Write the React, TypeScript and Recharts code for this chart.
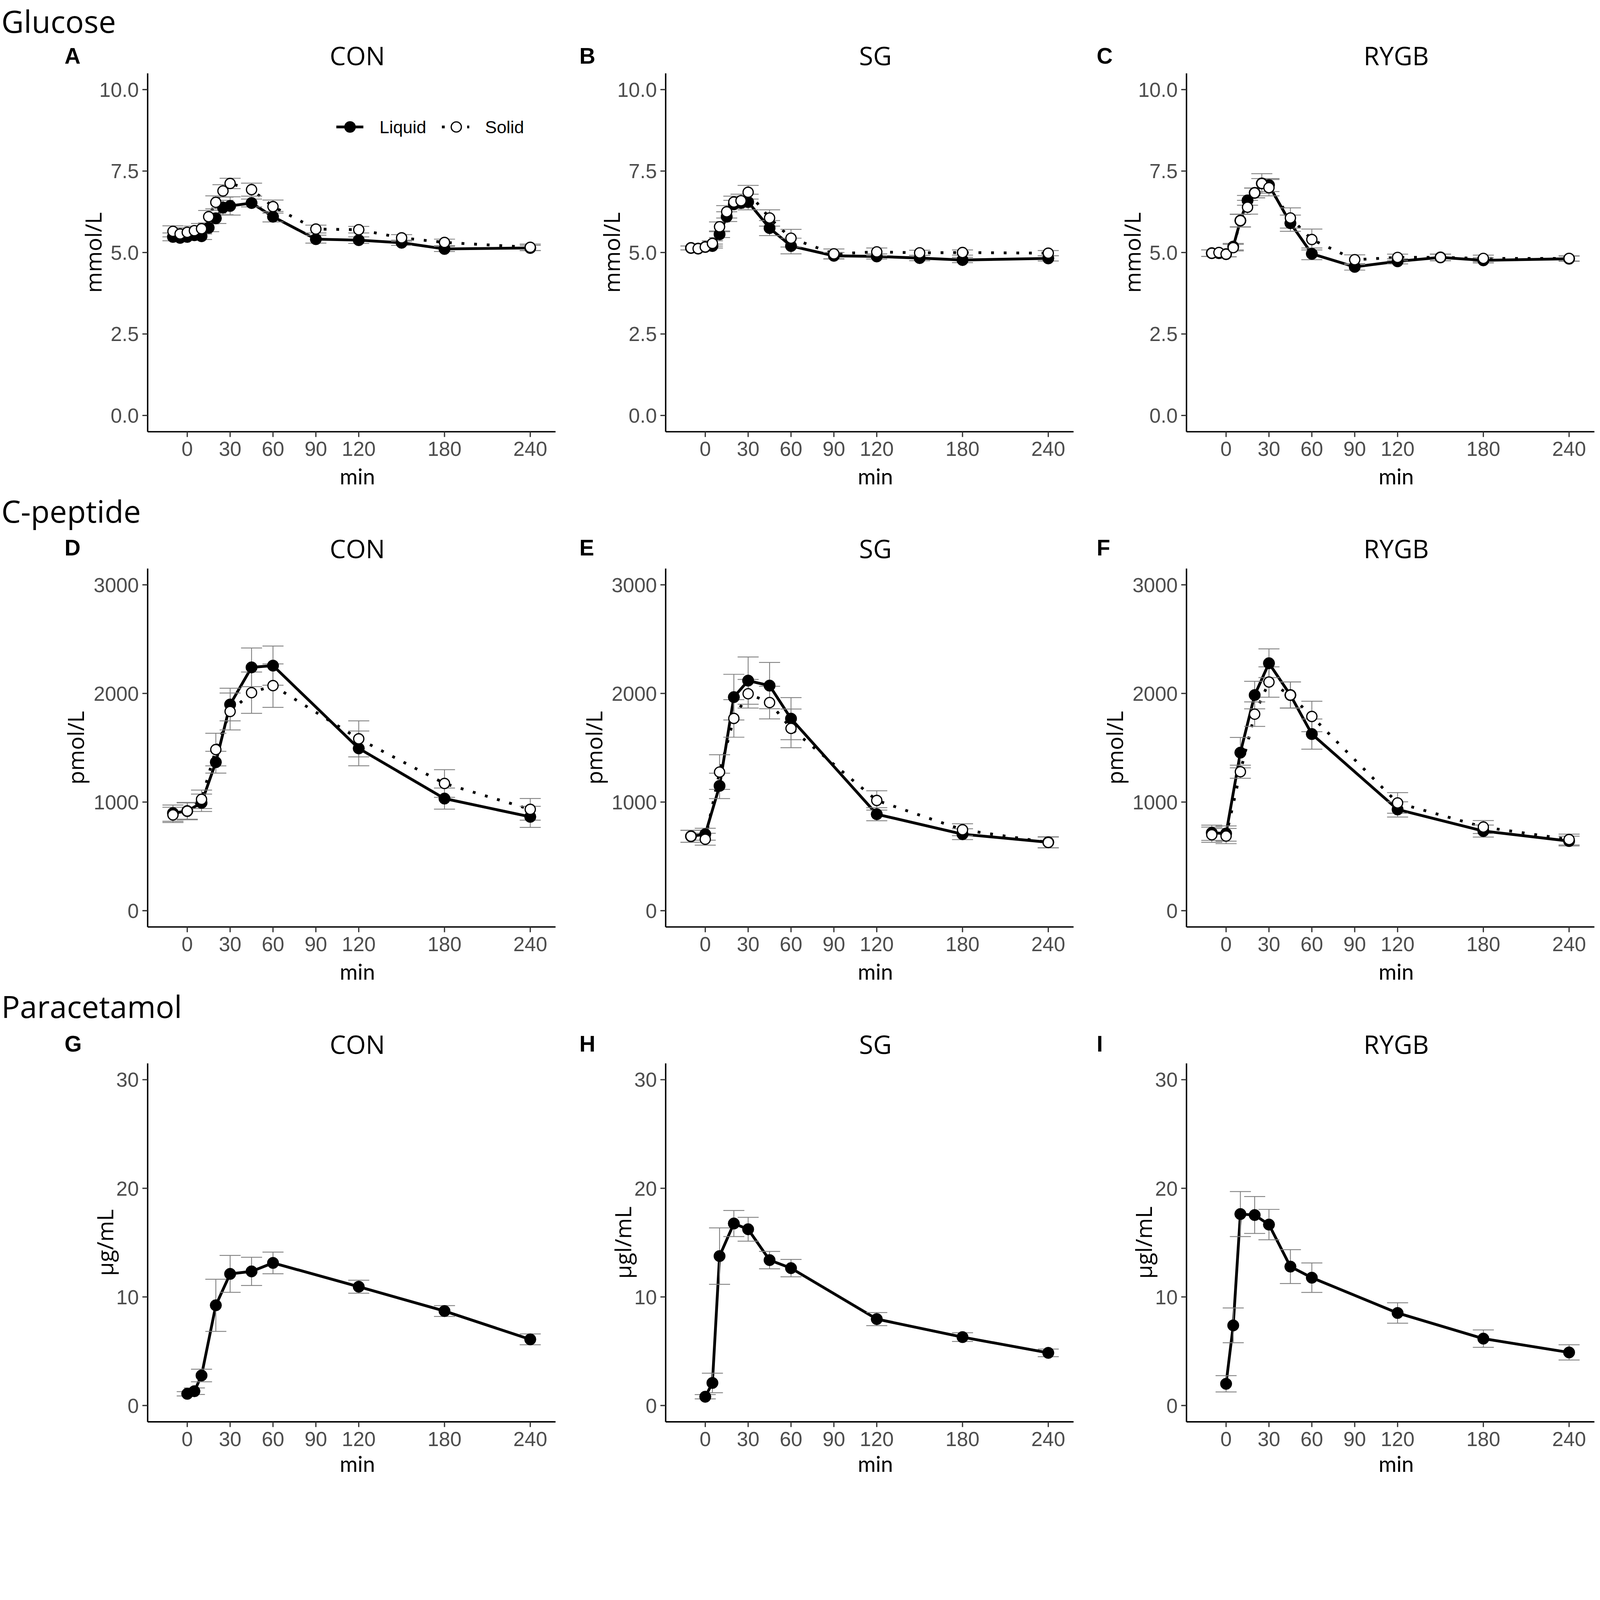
import { ComposedChart, Line, XAxis, YAxis, ErrorBar } from "recharts";

// ---- data ----
const glucoseTimes = [-10, -5, 0, 5, 10, 15, 20, 25, 30, 45, 60, 90, 120, 150, 180, 240];
const cpepTimes = [-10, 0, 10, 20, 30, 45, 60, 120, 180, 240];
const paraTimes = [0, 5, 10, 20, 30, 45, 60, 120, 180, 240];

// Glucose (mmol/L)
const gluConLiquid = [5.48, 5.45, 5.48, 5.53, 5.5, 5.76, 6.05, 6.38, 6.43, 6.52, 6.1, 5.41, 5.38, 5.3, 5.11, 5.14];
const gluConLiquidSe = [0.12, 0.1, 0.1, 0.1, 0.1, 0.12, 0.16, 0.22, 0.28, 0.12, 0.16, 0.12, 0.1, 0.08, 0.08, 0.08];
const gluConSolid = [5.65, 5.57, 5.62, 5.67, 5.73, 6.1, 6.54, 6.89, 7.12, 6.93, 6.41, 5.72, 5.7, 5.45, 5.31, 5.16];
const gluConSolidSe = [0.17, 0.14, 0.14, 0.14, 0.16, 0.19, 0.2, 0.19, 0.16, 0.2, 0.2, 0.12, 0.1, 0.1, 0.1, 0.1];

const gluSgLiquid = [5.14, 5.12, 5.17, 5.2, 5.56, 6.1, 6.48, 6.52, 6.55, 5.75, 5.2, 4.9, 4.88, 4.83, 4.77, 4.82];
const gluSgLiquidSe = [0.06, 0.06, 0.06, 0.06, 0.1, 0.15, 0.12, 0.12, 0.24, 0.23, 0.24, 0.1, 0.08, 0.08, 0.08, 0.08];
const gluSgSolid = [5.14, 5.12, 5.17, 5.28, 5.79, 6.25, 6.55, 6.59, 6.85, 6.06, 5.44, 4.96, 5.02, 4.99, 5.0, 4.98];
const gluSgSolidSe = [0.06, 0.06, 0.06, 0.08, 0.15, 0.19, 0.18, 0.2, 0.21, 0.25, 0.27, 0.15, 0.12, 0.08, 0.08, 0.08];

const gluRygbLiquid = [4.98, 4.98, 4.95, 5.18, 5.98, 6.6, 6.83, 7.12, 7.07, 5.9, 4.96, 4.56, 4.73, 4.85, 4.76, 4.81];
const gluRygbLiquidSe = [0.1, 0.08, 0.08, 0.1, 0.2, 0.15, 0.15, 0.15, 0.2, 0.25, 0.18, 0.1, 0.08, 0.1, 0.08, 0.08];
const gluRygbSolid = [4.98, 5.0, 4.95, 5.15, 5.98, 6.39, 6.83, 7.12, 6.99, 6.06, 5.4, 4.78, 4.85, 4.85, 4.82, 4.82];
const gluRygbSolidSe = [0.1, 0.08, 0.08, 0.1, 0.19, 0.21, 0.15, 0.3, 0.25, 0.31, 0.32, 0.15, 0.1, 0.1, 0.1, 0.08];

// C-peptide (pmol/L)
const cpConLiquid = [898, 917, 993, 1367, 1898, 2240, 2256, 1494, 1032, 864];
const cpConLiquidSe = [75, 80, 80, 100, 150, 178, 180, 160, 97, 97];
const cpConSolid = [882, 917, 1025, 1483, 1834, 2007, 2072, 1582, 1171, 933];
const cpConSolidSe = [70, 75, 85, 150, 170, 190, 200, 166, 127, 100];

const cpSgLiquid = [685, 704, 1149, 1966, 2118, 2072, 1768, 888, 704, 630];
const cpSgLiquidSe = [55, 55, 117, 210, 218, 213, 194, 60, 50, 50];
const cpSgSolid = [685, 658, 1276, 1770, 1997, 1916, 1678, 1015, 745, 628];
const cpSgSolidSe = [55, 55, 160, 173, 132, 150, 178, 89, 55, 50];

const cpRygbLiquid = [717, 710, 1455, 1985, 2278, 1985, 1626, 932, 733, 641];
const cpRygbLiquidSe = [70, 70, 140, 127, 132, 120, 139, 70, 55, 45];
const cpRygbSolid = [699, 687, 1279, 1809, 2105, 1985, 1788, 992, 770, 655];
const cpRygbSolidSe = [70, 70, 60, 113, 140, 120, 140, 95, 60, 50];

// Paracetamol (µg/mL), liquid meal only
const paraCon = [1.08, 1.32, 2.77, 9.23, 12.12, 12.35, 13.13, 10.94, 8.7, 6.09];
const paraConSe = [0.2, 0.3, 0.58, 2.4, 1.7, 1.3, 1.0, 0.6, 0.5, 0.5];
const paraSg = [0.81, 2.08, 13.76, 16.76, 16.23, 13.39, 12.65, 7.96, 6.3, 4.85];
const paraSgSe = [0.2, 0.9, 2.6, 1.2, 1.1, 0.8, 0.8, 0.6, 0.4, 0.35];
const paraRygb = [2.0, 7.38, 17.63, 17.54, 16.66, 12.79, 11.77, 8.52, 6.16, 4.89];
const paraRygbSe = [0.75, 1.6, 2.07, 1.7, 1.4, 1.56, 1.36, 0.94, 0.8, 0.7];

const xTicks = [0, 30, 60, 90, 120, 180, 240];
const glucoseTicks = [0, 2.5, 5, 7.5, 10];
const cpepTicks = [0, 1000, 2000, 3000];
const paraTicks = [0, 10, 20, 30];

const sections = ["Glucose", "C-peptide", "Paracetamol"];
const groups = ["CON", "SG", "RYGB"];
const letters = ["A", "B", "C", "D", "E", "F", "G", "H", "I"];

// ---- layout ----
const PAGE_W = 4562;
const PAGE_H = 4211;
const PLOT_W = 1163;
const PLOT_H = 1022;
const Y_W = 280;
const M_TOP = 20;
const M_RIGHT = 30;
const X_H = 130;
const colLeft = [421, 1898, 3383];
const rowTop = [209, 1621, 3032];
const letterX = [184, 1652, 3127];
const letterBase = [181, 1584, 2998];
const sectionBase = [94, 1490, 2902];
const titleBase = [186, 1592, 3005];
const minBase = [1381, 2793, 4197];
const X_DOMAIN: [number, number] = [-27.7, 257.7];

const TICK_FONT = "'Liberation Sans', Arial, sans-serif";
const TITLE_FONT = "'Open Sans', 'Noto Sans', sans-serif";
const MIN_FONT = "Lato, 'Open Sans', sans-serif";

const LINE_W = 8;
const DOT_DASH = "8 28";
const ERR_COLOR = "#808080";

type Row = { t: number; liquid: number; liquidSe: number; solid?: number; solidSe?: number };

function buildRows(times: number[], liquid: number[], liquidSe: number[], solid?: number[], solidSe?: number[]): Row[] {
  return times.map((t, i) => ({
    t,
    liquid: liquid[i],
    liquidSe: liquidSe[i],
    ...(solid ? { solid: solid[i], solidSe: solidSe![i] } : {}),
  }));
}

interface PanelProps {
  col: number;
  row: number;
  rows: Row[];
  yDomain: [number, number];
  yTicks: number[];
  fmt: (v: number) => string;
  hasSolid: boolean;
}

function Panel({ col, row, rows, yDomain, yTicks, fmt, hasSolid }: PanelProps) {
  const tickStyle = { fontSize: 58, fill: "#4D4D4D", fontFamily: TICK_FONT };
  return (
    <div style={{ position: "absolute", left: colLeft[col] - Y_W, top: rowTop[row] - M_TOP }}>
      <ComposedChart
        width={Y_W + PLOT_W + M_RIGHT}
        height={M_TOP + PLOT_H + X_H}
        data={rows}
        margin={{ top: M_TOP, right: M_RIGHT, bottom: 0, left: 0 }}
      >
        <XAxis
          type="number"
          dataKey="t"
          domain={X_DOMAIN}
          ticks={xTicks}
          interval={0}
          height={X_H}
          tickSize={15}
          tickMargin={13}
          tick={tickStyle}
          axisLine={{ stroke: "#000", strokeWidth: 4 }}
          tickLine={{ stroke: "#333", strokeWidth: 3.5 }}
          allowDataOverflow
        />
        <YAxis
          type="number"
          domain={yDomain}
          ticks={yTicks}
          interval={0}
          width={Y_W}
          tickSize={15}
          tickMargin={10}
          tickFormatter={fmt}
          tick={tickStyle}
          axisLine={{ stroke: "#000", strokeWidth: 4 }}
          tickLine={{ stroke: "#333", strokeWidth: 3.5 }}
          allowDataOverflow
        />
        <Line name="liquid-line" dataKey="liquid" type="linear" stroke="#000" strokeWidth={LINE_W} dot={false} activeDot={false} isAnimationActive={false} />
        {hasSolid && (
          <Line name="solid-line" dataKey="solid" type="linear" stroke="#000" strokeWidth={LINE_W} strokeDasharray={DOT_DASH} dot={false} activeDot={false} isAnimationActive={false} />
        )}
        <Line
          name="liquid-points"
          dataKey="liquid"
          type="linear"
          stroke="none"
          dot={{ r: 16.5, fill: "#000", stroke: "#000", strokeWidth: 1 }}
          activeDot={false}
          isAnimationActive={false}
        >
          <ErrorBar dataKey="liquidSe" direction="y" width={30} stroke={ERR_COLOR} strokeWidth={2.5} />
        </Line>
        {hasSolid && (
          <Line
            name="solid-points"
            dataKey="solid"
            type="linear"
            stroke="none"
            dot={{ r: 14.5, fill: "#fff", stroke: "#000", strokeWidth: 3.5 }}
            activeDot={false}
            isAnimationActive={false}
          >
            <ErrorBar dataKey="solidSe" direction="y" width={30} stroke={ERR_COLOR} strokeWidth={2.5} />
          </Line>
        )}
      </ComposedChart>
    </div>
  );
}

const fmtGlucose = (v: number) => v.toFixed(1);
const fmtPlain = (v: number) => String(v);

const panels: PanelProps[] = [
  { col: 0, row: 0, rows: buildRows(glucoseTimes, gluConLiquid, gluConLiquidSe, gluConSolid, gluConSolidSe), yDomain: [-0.5, 10.5], yTicks: glucoseTicks, fmt: fmtGlucose, hasSolid: true },
  { col: 1, row: 0, rows: buildRows(glucoseTimes, gluSgLiquid, gluSgLiquidSe, gluSgSolid, gluSgSolidSe), yDomain: [-0.5, 10.5], yTicks: glucoseTicks, fmt: fmtGlucose, hasSolid: true },
  { col: 2, row: 0, rows: buildRows(glucoseTimes, gluRygbLiquid, gluRygbLiquidSe, gluRygbSolid, gluRygbSolidSe), yDomain: [-0.5, 10.5], yTicks: glucoseTicks, fmt: fmtGlucose, hasSolid: true },
  { col: 0, row: 1, rows: buildRows(cpepTimes, cpConLiquid, cpConLiquidSe, cpConSolid, cpConSolidSe), yDomain: [-150, 3150], yTicks: cpepTicks, fmt: fmtPlain, hasSolid: true },
  { col: 1, row: 1, rows: buildRows(cpepTimes, cpSgLiquid, cpSgLiquidSe, cpSgSolid, cpSgSolidSe), yDomain: [-150, 3150], yTicks: cpepTicks, fmt: fmtPlain, hasSolid: true },
  { col: 2, row: 1, rows: buildRows(cpepTimes, cpRygbLiquid, cpRygbLiquidSe, cpRygbSolid, cpRygbSolidSe), yDomain: [-150, 3150], yTicks: cpepTicks, fmt: fmtPlain, hasSolid: true },
  { col: 0, row: 2, rows: buildRows(paraTimes, paraCon, paraConSe), yDomain: [-1.5, 31.5], yTicks: paraTicks, fmt: fmtPlain, hasSolid: false },
  { col: 1, row: 2, rows: buildRows(paraTimes, paraSg, paraSgSe), yDomain: [-1.5, 31.5], yTicks: paraTicks, fmt: fmtPlain, hasSolid: false },
  { col: 2, row: 2, rows: buildRows(paraTimes, paraRygb, paraRygbSe), yDomain: [-1.5, 31.5], yTicks: paraTicks, fmt: fmtPlain, hasSolid: false },
];

const yLabels = [
  ["mmol/L", "mmol/L", "mmol/L"],
  ["pmol/L", "pmol/L", "pmol/L"],
  ["µg/mL", "µgl/mL", "µgl/mL"],
];
// distance from the axis line to the baseline of the rotated y title
const yLabelOffset = [131, 181, 98];

function Annotations() {
  return (
    <svg width={PAGE_W} height={PAGE_H} style={{ position: "absolute", left: 0, top: 0, pointerEvents: "none" }}>
      {sections.map((s, r) => (
        <text key={s} x={4} y={sectionBase[r]} fontSize={88} fontFamily={TITLE_FONT} fill="#000">
          {s}
        </text>
      ))}
      {[0, 1, 2].map((r) =>
        [0, 1, 2].map((c) => {
          const cx = colLeft[c] + 598;
          const midY = rowTop[r] + PLOT_H / 2;
          const bx = colLeft[c] - yLabelOffset[r];
          return (
            <g key={`${r}-${c}`}>
              <text x={letterX[c]} y={letterBase[r]} fontSize={63} fontWeight="bold" fontFamily={TICK_FONT} fill="#000">
                {letters[r * 3 + c]}
              </text>
              <text x={cx} y={titleBase[r]} fontSize={73} textAnchor="middle" fontFamily={TITLE_FONT} fill="#000">
                {groups[c]}
              </text>
              <text x={cx} y={minBase[r]} fontSize={62} textAnchor="middle" fontFamily={MIN_FONT} fill="#000">
                min
              </text>
              <text
                x={bx}
                y={midY}
                fontSize={64}
                textAnchor="middle"
                fontFamily={TITLE_FONT}
                fill="#000"
                transform={`rotate(-90 ${bx} ${midY})`}
              >
                {yLabels[r][c]}
              </text>
            </g>
          );
        })
      )}
      {/* legend of panel A */}
      <line x1={959} y1={362} x2={1036} y2={362} stroke="#000" strokeWidth={LINE_W} />
      <circle cx={998} cy={362} r={16.5} fill="#000" />
      <text x={1082} y={380} fontSize={50} fontFamily={TICK_FONT} fill="#000">Liquid</text>
      <line x1={1260} y1={362} x2={1338} y2={362} stroke="#000" strokeWidth={LINE_W} strokeDasharray={DOT_DASH} />
      <circle cx={1301} cy={362} r={14.5} fill="#fff" stroke="#000" strokeWidth={3.5} />
      <text x={1383} y={380} fontSize={50} fontFamily={TICK_FONT} fill="#000">Solid</text>
    </svg>
  );
}

export default function App() {
  // the page is drawn at 4562x4211 and scaled down if the viewport is smaller in CSS pixels
  const vw = typeof window !== "undefined" ? window.innerWidth : PAGE_W;
  const vh = typeof window !== "undefined" ? window.innerHeight : PAGE_H;
  const scale = Math.min(1, vw / PAGE_W, vh / PAGE_H);
  return (
    <div style={{ position: "relative", width: PAGE_W * scale, height: PAGE_H * scale, background: "#fff" }}>
      <style>{`html,body{margin:0;padding:0;background:#fff;overflow:hidden;}`}</style>
      <div
        style={{
          position: "absolute",
          left: 0,
          top: 0,
          width: PAGE_W,
          height: PAGE_H,
          transform: `scale(${scale})`,
          transformOrigin: "0 0",
        }}
      >
        {panels.map((p, i) => (
          <Panel key={i} {...p} />
        ))}
        <Annotations />
      </div>
    </div>
  );
}
